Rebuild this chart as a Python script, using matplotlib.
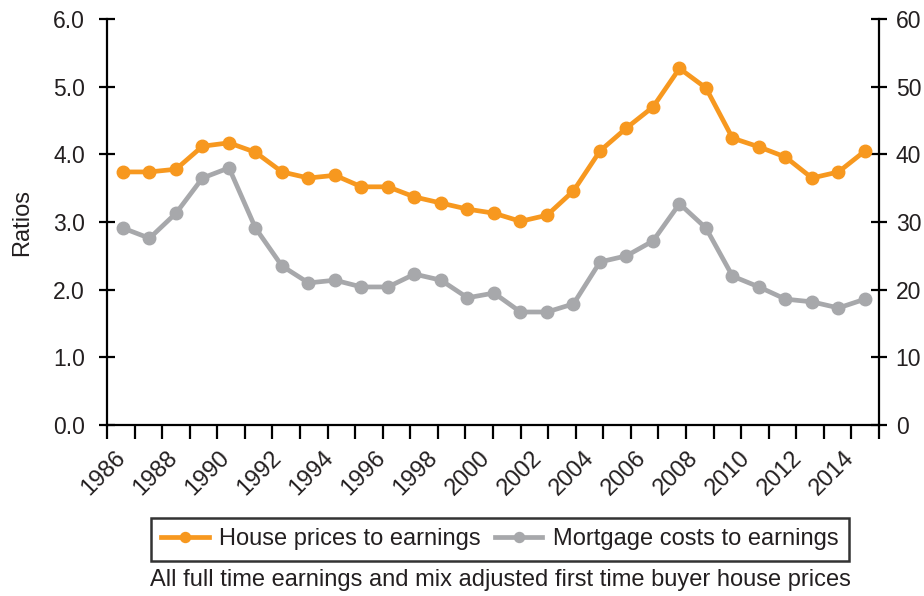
import numpy as np
import matplotlib
matplotlib.use("Agg")
import matplotlib.pyplot as plt

plt.rcParams['font.family'] = ['Liberation Sans', 'DejaVu Sans']

years = list(range(1986, 2015))
house_prices_to_earnings = [3.74, 3.74, 3.78, 4.12, 4.17, 4.03, 3.74, 3.65, 3.69, 3.52,
                            3.52, 3.37, 3.28, 3.19, 3.13, 3.01, 3.10, 3.46, 4.05, 4.39,
                            4.70, 5.27, 4.98, 4.24, 4.11, 3.96, 3.65, 3.74, 4.05]
mortgage_costs_to_earnings = [29.1, 27.6, 31.3, 36.5, 38.0, 29.1, 23.5, 21.0, 21.4, 20.4,
                              20.4, 22.3, 21.4, 18.8, 19.5, 16.7, 16.7, 17.9, 24.1, 25.0,
                              27.2, 32.7, 29.1, 22.0, 20.4, 18.6, 18.2, 17.3, 18.6]
left_ticks = [0.0, 1.0, 2.0, 3.0, 4.0, 5.0, 6.0]
right_ticks = [0, 10, 20, 30, 40, 50, 60]
xtick_labels = [str(y) for y in range(1986, 2015, 2)]

ORANGE = '#F7981F'
GREY = '#A7A8AB'
TXT = '#231F20'

fig = plt.figure(figsize=(9.24, 5.96), dpi=100)
ax = fig.add_axes([107/924, 1 - 425/596, 772/924, 406/596])
ax2 = ax.twinx()

l1, = ax.plot(years, house_prices_to_earnings, color=ORANGE, lw=3.4, marker='o',
              ms=9, zorder=3, solid_joinstyle='round')
l2, = ax2.plot(years, mortgage_costs_to_earnings, color=GREY, lw=3.4, marker='o',
               ms=9, zorder=3, solid_joinstyle='round')
ax.set_zorder(ax2.get_zorder() + 1)
ax.patch.set_visible(False)

px_per_year = 26.5
x0 = years[0] - 16/px_per_year
x1 = x0 + 772/px_per_year
ax.set_xlim(x0, x1)
ax.set_ylim(0, 6)
ax2.set_ylim(0, 60)

# boundary ticks (minor) and label anchors (major, no tick mark)
ax.set_xticks(np.linspace(x0, x1, len(years)), minor=True)
label_pos = [x0 + (7 + 52.07*k)/px_per_year for k in range(len(xtick_labels))]
ax.set_xticks(label_pos)
ax.set_xticklabels(xtick_labels, rotation=45, ha='right', rotation_mode='anchor',
                   fontsize=17, color=TXT)
ax.tick_params(axis='x', which='major', length=0, pad=16)
ax.tick_params(axis='x', which='minor', direction='out', length=10, width=1.6, color='black')

ax.set_yticks(left_ticks)
ax.set_yticklabels([f'{v:.1f}' for v in left_ticks], fontsize=16.5, color=TXT)
ax2.set_yticks(right_ticks)
ax2.set_yticklabels([str(v) for v in right_ticks], fontsize=16.5, color=TXT)

for a in (ax, ax2):
    for s in a.spines.values():
        s.set_linewidth(1.6)
        s.set_color('black')
    a.spines['top'].set_visible(False)

ax.spines['right'].set_visible(False)
ax2.spines['left'].set_visible(False)
ax2.spines['bottom'].set_visible(False)

ax.tick_params(axis='y', direction='inout', length=12, width=1.6, pad=10, color='black')
ax2.tick_params(axis='y', direction='inout', length=12, width=1.6, pad=6, color='black')

ax.set_ylabel('Ratios', fontsize=17, color=TXT, labelpad=14)

leg = fig.legend([l1, l2], ['House prices to earnings', 'Mortgage costs to earnings'],
                 loc='center', bbox_to_anchor=(500/924, 1 - 539.5/596), ncol=2,
                 frameon=True, fancybox=False, edgecolor='black', fontsize=17,
                 handlelength=2.0, handletextpad=0.45, columnspacing=0.6,
                 borderpad=0.45, borderaxespad=0, markerscale=0.8)
leg.get_frame().set_linewidth(1.8)
for t in leg.get_texts():
    t.set_color(TXT)

fig.text(500/924, 1 - 580/596,
         'All full time earnings and mix adjusted first time buyer house prices',
         ha='center', va='center', fontsize=17, color=TXT)

fig.savefig('out.png', dpi=100)
